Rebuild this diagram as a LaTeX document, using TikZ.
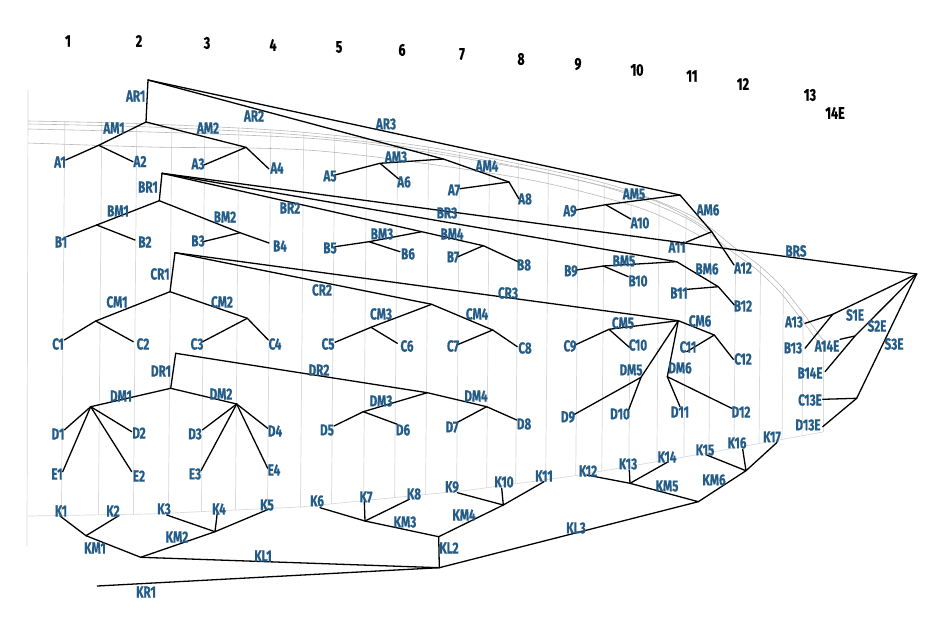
\documentclass[tikz,border=0pt]{standalone}
\usepackage{fontspec}
\setmainfont{Fira Sans}[FakeStretch=0.73, BoldFeatures={FakeBold=0.6}]
\definecolor{labblue}{RGB}{36,92,136}
\definecolor{gridgray}{RGB}{218,218,218}
\definecolor{curvegray}{RGB}{185,185,185}
\begin{document}
\begin{tikzpicture}[x=1pt,y=-1pt,
  lab/.style={font=\fontsize{16}{16}\selectfont\bfseries,text=labblue,inner sep=0pt},
  num/.style={font=\fontsize{17}{17}\selectfont\bfseries,text=black,inner sep=0pt},
  edge/.style={draw=black,line width=1.3pt,line join=round,line cap=round},
  gridln/.style={draw=gridgray,line width=0.7pt},
  curveln/.style={draw=curvegray,line width=0.6pt}]
\fill[white] (0,0) rectangle (950,624);
\useasboundingbox (0,0) rectangle (950,624);

% ---------- background grid ----------
\begin{scope}
\clip plot[smooth] coordinates {(28,121) (150,124) (300,132) (440,149) (600,182) (690,215) (735,248) (760,266) (783,288) (803,313) (823,340)}
  -- (823,432) -- (707,453) -- (573,476) -- (470,490) -- (300,507) -- (150,514) -- (28,516) -- cycle;
\foreach \x in {63,100,135,170,203,237,269,302,333,365,396,427,458,488,517,547,577,603,630,658,685,710,735,760,783,803}
  \draw[gridln] (\x+2,100) -- (\x-2,560);
\end{scope}
\draw[gridln] (28,90) -- (27,546);
\draw[gridln] (823,340) -- (823,432);
\draw[gridln] (28,516) -- (150,514) -- (300,507) -- (470,490) -- (573,476) -- (707,453) -- (823,432);
\draw[curveln] plot[smooth] coordinates {(28,121) (150,124) (300,132) (440,149) (600,182) (690,215) (735,248) (760,266) (783,288) (803,313) (823,340)};
\draw[curveln] plot[smooth] coordinates {(28,124) (150,127) (300,135) (440,152) (598,185) (686,218) (731,251) (756,269) (779,291) (799,316) (818,342)};
\draw[curveln] plot[smooth] coordinates {(28,129) (320,139) (520,168) (650,199) (712,232)};
\draw[curveln] plot[smooth] coordinates {(28,143) (150,147) (320,151) (520,178) (640,208) (700,236)};

% ---------- column numbers ----------
\node[num] (c1) at (68,41) {1};
\node[num] (c2) at (139,41) {2};
\node[num] (c3) at (207,43) {3};
\node[num] (c4) at (273,45) {4};
\node[num] (c5) at (339,47) {5};
\node[num] (c6) at (402,50) {6};
\node[num] (c7) at (462,54) {7};
\node[num] (c8) at (521,59) {8};
\node[num] (c9) at (578,64) {9};
\node[num] (c10) at (637,70) {10};
\node[num] (c11) at (692,76) {11};
\node[num] (c12) at (743,84) {12};
\node[num] (c13) at (810,95) {13};
\node[num] (c14) at (835,113) {14E};

% ---------- A group ----------
\coordinate (arT) at (148,80);
\coordinate (am1) at (146,122);
\coordinate (ja12) at (98.7,145.3);
\coordinate (a1e) at (65.7,160);
\coordinate (a2e) at (133,161.7);
\coordinate (ja34) at (246,147.3);
\coordinate (a3e) at (204,165);
\coordinate (a4e) at (269,169);
\coordinate (pA) at (443.3,159);
\coordinate (ja56) at (380,163.3);
\coordinate (a5e) at (335,175);
\coordinate (a6e) at (398.7,179);
\coordinate (ja78) at (509,182);
\coordinate (a7e) at (460,188.7);
\coordinate (a8e) at (519,199);
\coordinate (pAB) at (680,195);
\coordinate (ja910) at (605.7,204.7);
\coordinate (a9e) at (576,210);
\coordinate (a10e) at (630.7,219);
\coordinate (ja1112) at (711.7,231.7);
\coordinate (a11e) at (686,242.3);
\coordinate (a12e) at (734,265);

\draw[edge] (arT) -- (am1);
\draw[edge] (am1) -- (ja12) -- (a1e);
\draw[edge] (ja12) -- (a2e);
\draw[edge] (am1) -- (ja34) -- (a3e);
\draw[edge] (ja34) -- (a4e);
\draw[edge] (arT) -- (pA) -- (ja78) -- (a8e);
\draw[edge] (pA) -- (ja56) -- (a5e);
\draw[edge] (ja56) -- (a6e);
\draw[edge] (ja78) -- (a7e);
\draw[edge] (arT) -- (pAB) -- (ja1112) -- (a12e);
\draw[edge] (pAB) -- (ja910) -- (a9e);
\draw[edge] (ja910) -- (a10e);
\draw[edge] (ja1112) -- (a11e);

\node[lab] (lAR1) at (135.7,96) {AR1};
\node[lab] (lAM1) at (114,128) {AM1};
\node[lab] (lA1) at (60,162) {A1};
\node[lab] (lA2) at (140,161.5) {A2};
\node[lab] (lAM2) at (208,128) {AM2};
\node[lab] (lA3) at (198,164) {A3};
\node[lab] (lA4) at (277,168) {A4};
\node[lab] (lAR2) at (254,116) {AR2};
\node[lab] (lAR3) at (386,124) {AR3};
\node[lab] (lAM3) at (396,157) {AM3};
\node[lab] (lA5) at (330,176) {A5};
\node[lab] (lA6) at (404,182) {A6};
\node[lab] (lAM4) at (487,166) {AM4};
\node[lab] (lA7) at (454,190) {A7};
\node[lab] (lA8) at (525,199) {A8};
\node[lab] (lAM5) at (634,194) {AM5};
\node[lab] (lA9) at (570,211) {A9};
\node[lab] (lA10) at (640,223) {A10};
\node[lab] (lAM6) at (708,210) {AM6};
\node[lab] (lA11) at (677,247) {A11};
\node[lab] (lA12) at (743,268) {A12};

% ---------- B group ----------
\coordinate (brT) at (162,173.3);
\coordinate (bm) at (159.3,200.7);
\coordinate (jb12) at (96.7,225);
\coordinate (b1e) at (66.7,236.7);
\coordinate (b2e) at (135,240);
\coordinate (jb34) at (240,232.7);
\coordinate (b3e) at (203,241.7);
\coordinate (b4e) at (269,243);
\coordinate (pB2) at (421.7,231.7);
\coordinate (jb56) at (369,241.7);
\coordinate (b5e) at (335,246.7);
\coordinate (b6e) at (400,251.7);
\coordinate (jb78) at (483.3,245.7);
\coordinate (b7e) at (458,256.7);
\coordinate (b8e) at (519.3,262.3);
\coordinate (pB3) at (676.7,261.7);
\coordinate (jb910) at (603.3,266);
\coordinate (b9e) at (576.7,270);
\coordinate (b10e) at (628.3,276.7);
\coordinate (jb1112) at (718.3,286.7);
\coordinate (b11e) at (687.3,289.3);
\coordinate (b12e) at (734.3,305);
\coordinate (vE) at (916.7,274);

\draw[edge] (brT) -- (bm);
\draw[edge] (bm) -- (jb12) -- (b1e);
\draw[edge] (jb12) -- (b2e);
\draw[edge] (bm) -- (jb34) -- (b4e);
\draw[edge] (jb34) -- (b3e);
\draw[edge] (brT) -- (pB2) -- (jb78) -- (b8e);
\draw[edge] (pB2) -- (jb56) -- (b5e);
\draw[edge] (jb56) -- (b6e);
\draw[edge] (jb78) -- (b7e);
\draw[edge] (brT) -- (pB3) -- (jb1112) -- (b12e);
\draw[edge] (pB3) -- (jb910) -- (b9e);
\draw[edge] (jb910) -- (b10e);
\draw[edge] (jb1112) -- (b11e);
\draw[edge] (brT) -- (vE);

\node[lab] (lBR1) at (148,187) {BR1};
\node[lab] (lBM1) at (118,211) {BM1};
\node[lab] (lB1) at (61,242) {B1};
\node[lab] (lB2) at (145,242) {B2};
\node[lab] (lBM2) at (225,217) {BM2};
\node[lab] (lB3) at (198,241) {B3};
\node[lab] (lB4) at (280,246) {B4};
\node[lab] (lBR2) at (290,208) {BR2};
\node[lab] (lBR3) at (447,213) {BR3};
\node[lab] (lBM3) at (382,234) {BM3};
\node[lab] (lB5) at (330,248) {B5};
\node[lab] (lB6) at (408,254) {B6};
\node[lab] (lBM4) at (452,234) {BM4};
\node[lab] (lB7) at (453,257) {B7};
\node[lab] (lB8) at (524,265) {B8};
\node[lab] (lBM5) at (624,261) {BM5};
\node[lab] (lB9) at (571,271) {B9};
\node[lab] (lB10) at (638,281) {B10};
\node[lab] (lBM6) at (707,269) {BM6};
\node[lab] (lB11) at (679,293) {B11};
\node[lab] (lB12) at (743,306) {B12};
\node[lab] (lBRS) at (796,251) {BRS};

% ---------- C group ----------
\coordinate (crT) at (175,252.7);
\coordinate (cm) at (170,291.7);
\coordinate (jc12) at (95.7,321);
\coordinate (c1e) at (64.3,340);
\coordinate (c2e) at (133.3,341.7);
\coordinate (jc34) at (247.3,318.3);
\coordinate (c3e) at (202.7,341.7);
\coordinate (c4e) at (268.3,340);
\coordinate (pC2) at (431.7,304.3);
\coordinate (jc56) at (371,327.3);
\coordinate (c5e) at (335,342.3);
\coordinate (c6e) at (397.3,343.3);
\coordinate (jc78) at (492.7,330);
\coordinate (c7e) at (456.7,345);
\coordinate (c8e) at (517.3,346.7);
\coordinate (pC3) at (678.3,320.7);
\coordinate (jc910) at (609,329.3);
\coordinate (c9e) at (575,345);
\coordinate (c10e) at (629.3,347.3);
\coordinate (jc1112) at (714.3,335);
\coordinate (c11e) at (686.7,351.7);
\coordinate (c12e) at (733.3,359.3);

\draw[edge] (crT) -- (cm);
\draw[edge] (cm) -- (jc12) -- (c1e);
\draw[edge] (jc12) -- (c2e);
\draw[edge] (cm) -- (jc34) -- (c4e);
\draw[edge] (jc34) -- (c3e);
\draw[edge] (crT) -- (pC2) -- (jc78) -- (c8e);
\draw[edge] (pC2) -- (jc56) -- (c5e);
\draw[edge] (jc56) -- (c6e);
\draw[edge] (jc78) -- (c7e);
\draw[edge] (crT) -- (pC3) -- (jc1112) -- (c12e);
\draw[edge] (pC3) -- (jc910) -- (c9e);
\draw[edge] (jc910) -- (c10e);
\draw[edge] (jc1112) -- (c11e);

\node[lab] (lCR1) at (160,274) {CR1};
\node[lab] (lCM1) at (117,302) {CM1};
\node[lab] (lC1) at (58,344) {C1};
\node[lab] (lC2) at (143,344) {C2};
\node[lab] (lCM2) at (222,302) {CM2};
\node[lab] (lC3) at (197,344) {C3};
\node[lab] (lC4) at (275,344) {C4};
\node[lab] (lCR2) at (322,290) {CR2};
\node[lab] (lCM3) at (381,314) {CM3};
\node[lab] (lC5) at (328,344) {C5};
\node[lab] (lC6) at (407,346) {C6};
\node[lab] (lCM4) at (477,314) {CM4};
\node[lab] (lC7) at (453,346) {C7};
\node[lab] (lC8) at (525,348) {C8};
\node[lab] (lCR3) at (508,293) {CR3};
\node[lab] (lCM5) at (623,323) {CM5};
\node[lab] (lC9) at (570,346) {C9};
\node[lab] (lC10) at (638,345) {C10};
\node[lab] (lCM6) at (700,321) {CM6};
\node[lab] (lC11) at (688,347) {C11};
\node[lab] (lC12) at (743,359) {C12};

% ---------- D group ----------
\coordinate (drT) at (175.7,353.3);
\coordinate (dm) at (170.7,388.3);
\coordinate (jd1) at (90.7,406.7);
\coordinate (d1e) at (64.3,430);
\coordinate (d2e) at (131.7,431.7);
\coordinate (e1e) at (62.7,471.7);
\coordinate (e2e) at (131.7,471.7);
\coordinate (jd2) at (236.7,404);
\coordinate (d3e) at (202.3,430);
\coordinate (d4e) at (267.7,428.3);
\coordinate (e3e) at (201,470.7);
\coordinate (e4e) at (267.7,468.3);
\coordinate (pD2) at (427.3,392.7);
\coordinate (jd56) at (363.3,411.7);
\coordinate (d5e) at (334,426);
\coordinate (d6e) at (397.3,424.3);
\coordinate (jd78) at (486.7,406.7);
\coordinate (d7e) at (456.7,422.7);
\coordinate (d8e) at (516.7,420);
\coordinate (jd910) at (641,377.3);
\coordinate (d9e) at (573.3,415);
\coordinate (d10e) at (628.3,410.7);
\coordinate (jd1112) at (667.3,376.7);
\coordinate (d11e) at (680,406.7);
\coordinate (d12e) at (731.7,408.3);

\draw[edge] (drT) -- (dm);
\draw[edge] (dm) -- (jd1);
\draw[edge] (jd1) -- (d1e);
\draw[edge] (jd1) -- (d2e);
\draw[edge] (jd1) -- (e1e);
\draw[edge] (jd1) -- (e2e);
\draw[edge] (dm) -- (jd2);
\draw[edge] (jd2) -- (d3e);
\draw[edge] (jd2) -- (d4e);
\draw[edge] (jd2) -- (e3e);
\draw[edge] (jd2) -- (e4e);
\draw[edge] (drT) -- (pD2) -- (jd78) -- (d8e);
\draw[edge] (pD2) -- (jd56) -- (d5e);
\draw[edge] (jd56) -- (d6e);
\draw[edge] (jd78) -- (d7e);
\draw[edge] (pC3) -- (jd910) -- (d9e);
\draw[edge] (jd910) -- (d10e);
\draw[edge] (pC3) -- (jd1112) -- (d11e);
\draw[edge] (jd1112) -- (d12e);

\node[lab] (lDR1) at (161,371) {DR1};
\node[lab] (lDM1) at (121,396) {DM1};
\node[lab] (lD1) at (58,434) {D1};
\node[lab] (lD2) at (139,433) {D2};
\node[lab] (lE1) at (57,474) {E1};
\node[lab] (lE2) at (139,476) {E2};
\node[lab] (lDM2) at (221,394) {DM2};
\node[lab] (lD3) at (195,434) {D3};
\node[lab] (lD4) at (275,431) {D4};
\node[lab] (lE3) at (195,474) {E3};
\node[lab] (lE4) at (274,470) {E4};
\node[lab] (lDR2) at (319,370) {DR2};
\node[lab] (lDM3) at (381,401) {DM3};
\node[lab] (lD5) at (327,430) {D5};
\node[lab] (lD6) at (403,430) {D6};
\node[lab] (lDM4) at (476,396) {DM4};
\node[lab] (lD7) at (452,427) {D7};
\node[lab] (lD8) at (524,424) {D8};
\node[lab] (lDM5) at (631,370) {DM5};
\node[lab] (lD9) at (568,417) {D9};
\node[lab] (lD10) at (620,414) {D10};
\node[lab] (lDM6) at (680,368) {DM6};
\node[lab] (lD11) at (680,412) {D11};
\node[lab] (lD12) at (741,412) {D12};

% ---------- E group (right) ----------
\coordinate (w1) at (832.7,314.3);
\coordinate (a13e) at (805,323.3);
\coordinate (b13e) at (805,348.3);
\coordinate (w2) at (855,336);
\coordinate (a14e) at (840,339.3);
\coordinate (b14e) at (825,371.7);
\coordinate (w3) at (856.7,398.3);
\coordinate (c13e) at (822.7,399.3);
\coordinate (d13e) at (822.7,426.7);

\draw[edge] (vE) -- (w1) -- (a13e);
\draw[edge] (w1) -- (b13e);
\draw[edge] (vE) -- (w2) -- (b14e);
\draw[edge] (w2) -- (a14e);
\draw[edge] (vE) -- (w3) -- (c13e);
\draw[edge] (w3) -- (d13e);

\node[lab] (lS1E) at (855,315) {S1E};
\node[lab] (lA13) at (794,322) {A13};
\node[lab] (lB13) at (793,348) {B13};
\node[lab] (lS2E) at (877,326) {S2E};
\node[lab] (lA14E) at (827,346) {A14E};
\node[lab] (lB14E) at (810,373) {B14E};
\node[lab] (lS3E) at (894,344) {S3E};
\node[lab] (lC13E) at (810,400) {C13E};
\node[lab] (lD13E) at (808,425) {D13E};

% ---------- K group ----------
\coordinate (k1e) at (60,516);
\coordinate (k2e) at (118.3,516);
\coordinate (jk12) at (86,535.7);
\coordinate (x1) at (140.7,557.3);
\coordinate (jk345) at (215,531.7);
\coordinate (k3e) at (166.7,515);
\coordinate (k4e) at (217.3,512.7);
\coordinate (k5e) at (268.3,509.3);
\coordinate (yK) at (439.3,567.7);
\coordinate (kr) at (97.3,586);
\coordinate (zK) at (438.7,536.7);
\coordinate (jk678) at (365,521);
\coordinate (k6e) at (320,507.7);
\coordinate (k7e) at (364.3,501.7);
\coordinate (k8e) at (409.3,499.3);
\coordinate (jk911) at (503.3,505);
\coordinate (k9e) at (457.3,492.7);
\coordinate (k10e) at (501.7,488.3);
\coordinate (k11e) at (544,481.7);
\coordinate (pK3) at (698.3,501.7);
\coordinate (jk1214) at (630,483.3);
\coordinate (k12e) at (586.7,475);
\coordinate (k13e) at (629.3,470);
\coordinate (k14e) at (668.3,461.7);
\coordinate (jk1517) at (746,470.7);
\coordinate (k15e) at (706.7,455);
\coordinate (k16e) at (742.7,449.3);
\coordinate (k17e) at (776.7,442.7);

\draw[edge] (k1e) -- (jk12) -- (x1) -- (jk345) -- (k5e);
\draw[edge] (k2e) -- (jk12);
\draw[edge] (jk345) -- (k3e);
\draw[edge] (jk345) -- (k4e);
\draw[edge] (x1) -- (yK);
\draw[edge] (kr) -- (yK) -- (zK);
\draw[edge] (zK) -- (jk678) -- (k6e);
\draw[edge] (jk678) -- (k7e);
\draw[edge] (jk678) -- (k8e);
\draw[edge] (zK) -- (jk911) -- (k11e);
\draw[edge] (jk911) -- (k9e);
\draw[edge] (jk911) -- (k10e);
\draw[edge] (yK) -- (pK3) -- (jk1214) -- (k12e);
\draw[edge] (jk1214) -- (k13e);
\draw[edge] (jk1214) -- (k14e);
\draw[edge] (pK3) -- (jk1517) -- (k17e);
\draw[edge] (jk1517) -- (k15e);
\draw[edge] (jk1517) -- (k16e);

\node[lab] (lK1) at (61,511) {K1};
\node[lab] (lK2) at (113,511) {K2};
\node[lab] (lKM1) at (95,548) {KM1};
\node[lab] (lK3) at (164,509) {K3};
\node[lab] (lK4) at (219,509) {K4};
\node[lab] (lK5) at (267,505) {K5};
\node[lab] (lKM2) at (177,537) {KM2};
\node[lab] (lKL1) at (263,556) {KL1};
\node[lab] (lKR1) at (146,592) {KR1};
\node[lab] (lKL2) at (449,548) {KL2};
\node[lab] (lK6) at (317,501) {K6};
\node[lab] (lK7) at (366,497) {K7};
\node[lab] (lK8) at (414,494) {K8};
\node[lab] (lKM3) at (405,522) {KM3};
\node[lab] (lK9) at (452,487) {K9};
\node[lab] (lK10) at (504,482) {K10};
\node[lab] (lK11) at (544,476) {K11};
\node[lab] (lKM4) at (464,515) {KM4};
\node[lab] (lKL3) at (576,528) {KL3};
\node[lab] (lK12) at (588,471) {K12};
\node[lab] (lK13) at (628,464) {K13};
\node[lab] (lK14) at (667,457) {K14};
\node[lab] (lKM5) at (667,486) {KM5};
\node[lab] (lK15) at (705,450) {K15};
\node[lab] (lK16) at (737,443) {K16};
\node[lab] (lK17) at (772,437) {K17};
\node[lab] (lKM6) at (714,480) {KM6};
\end{tikzpicture}
\end{document}
